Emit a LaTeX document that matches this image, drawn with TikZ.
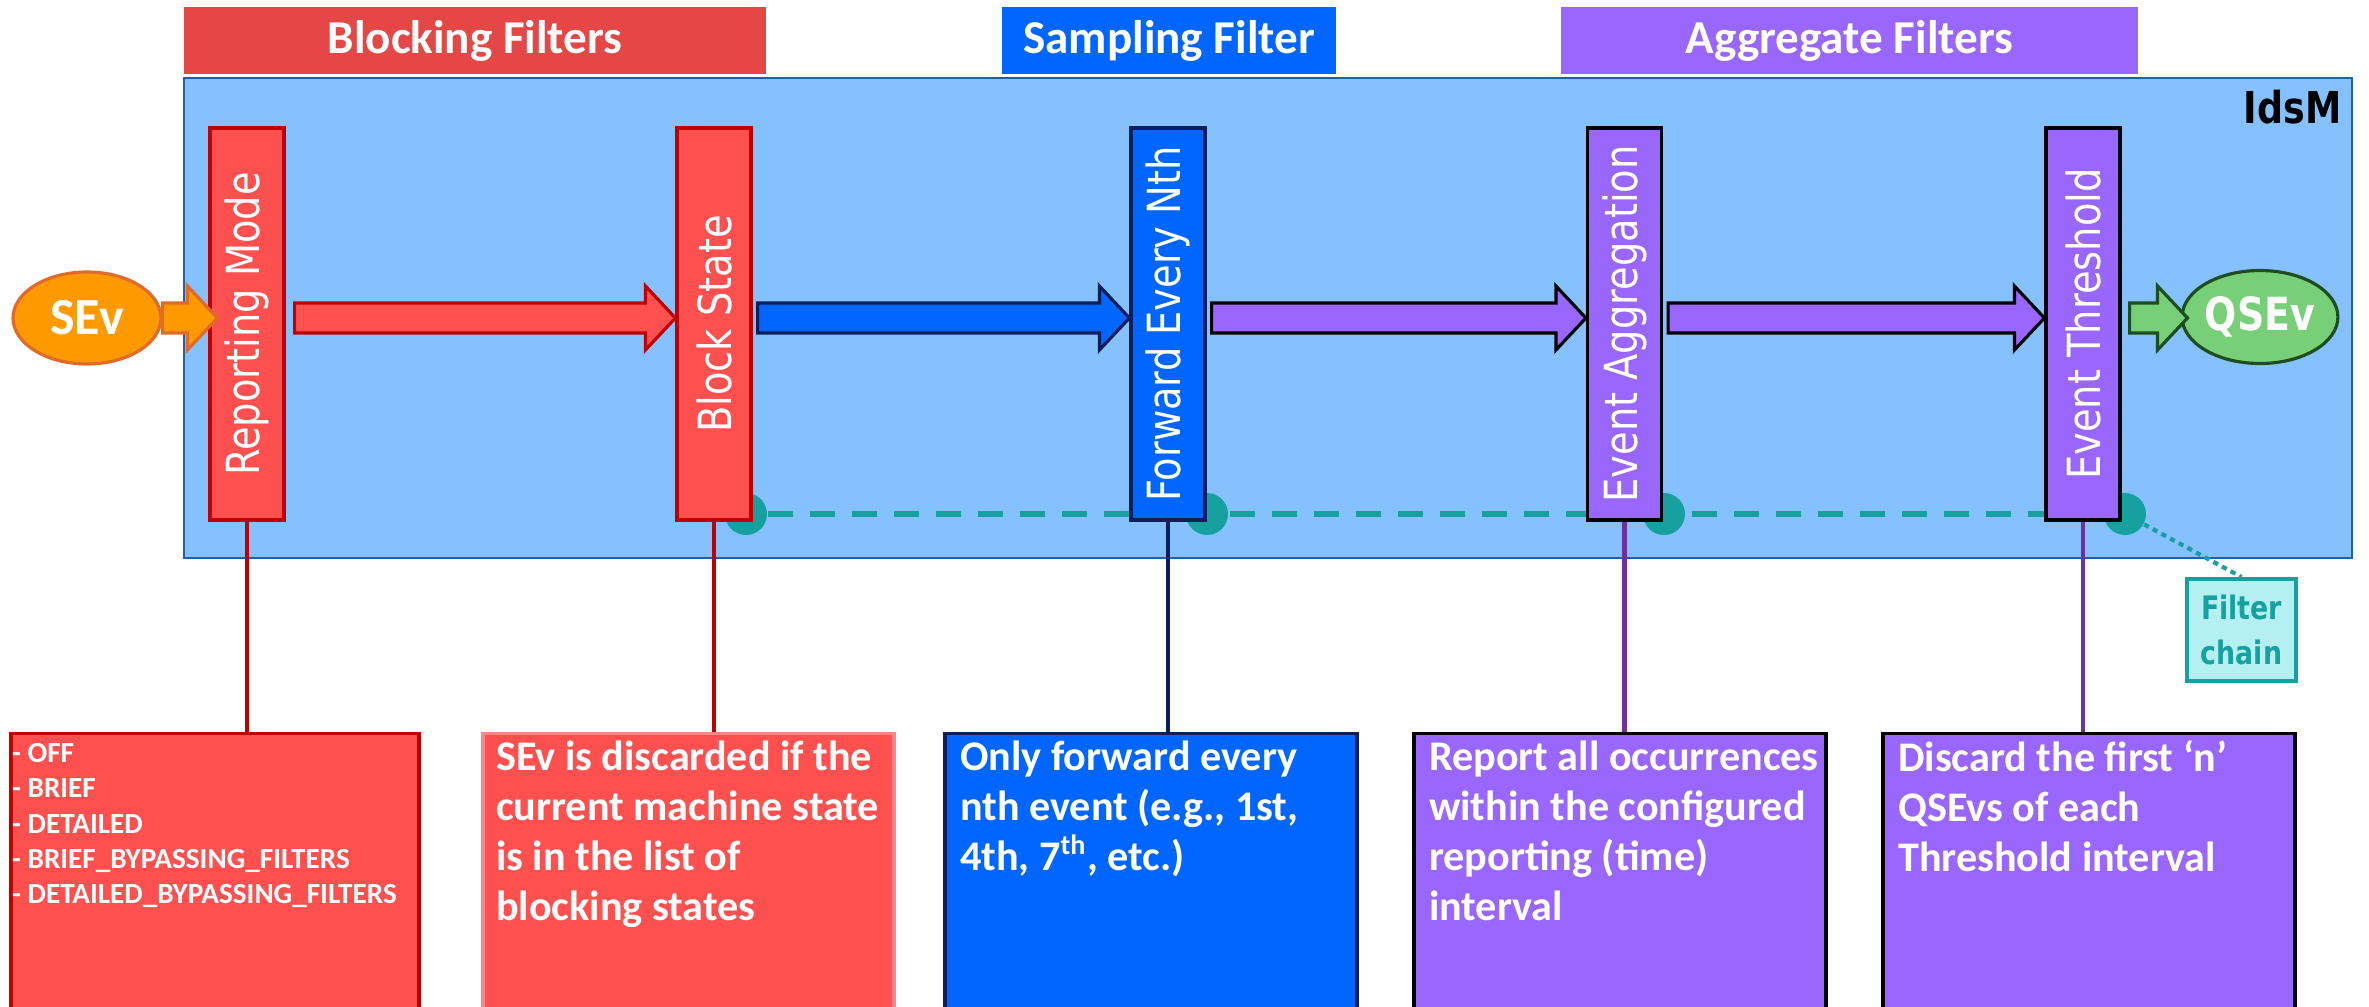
\documentclass[tikz,border=0pt]{standalone}
\usepackage{fontspec}
\setmainfont{Carlito}
\newfontfamily\boxfont{DejaVu Sans}
\usetikzlibrary{positioning,calc,shapes.geometric}

\definecolor{redfill}{HTML}{FF5050}
\definecolor{redbanner}{HTML}{E54646}
\definecolor{redline}{HTML}{C00000}
\definecolor{bluefill}{HTML}{0066FF}
\definecolor{navyline}{HTML}{0C1F5A}
\definecolor{purplefill}{HTML}{9966FF}
\definecolor{purpleline}{HTML}{7030A0}
\definecolor{idsmbg}{HTML}{85C1FF}
\definecolor{idsmline}{HTML}{1F5FAF}
\definecolor{orangefill}{HTML}{FF9900}
\definecolor{orangeline}{HTML}{E06A2A}
\definecolor{greenfill}{HTML}{77D077}
\definecolor{greenline}{HTML}{1E4D1E}
\definecolor{chainteal}{HTML}{17A0A0}
\definecolor{chainfill}{HTML}{B4F0F2}

\tikzset{
  banner/.style={fill=#1, text=white, minimum height=0.67cm, inner sep=0pt,
    font=\bfseries\fontsize{13.4}{16}\selectfont},
  filterbox/.style={fill=#1, line width=0.9pt, minimum width=0.74cm,
    minimum height=3.92cm, inner sep=0pt, text=white,
    font=\boxfont\fontsize{13}{15}\selectfont},
  descbox/.style={fill=#1, line width=0.9pt, minimum height=3cm,
    anchor=north, inner sep=0pt},
  desctext/.style={anchor=north west, inner sep=0pt, align=left, text=white,
    font=\bfseries\fontsize{12}{14.2}\selectfont},
  arrowbody/.style={fill=#1, line width=0.9pt, line join=miter},
  chaindot/.style={circle, fill=chainteal, minimum size=0.42cm, inner sep=0pt},
  uplink/.style={line width=1.3pt},
}

\newcommand{\blockarrow}[3][]{%
  \draw[#1] let \p1=#2, \p2=#3 in
    (\x1,\y1+1.5mm) -- (\x2-3mm,\y1+1.5mm) -- (\x2-3mm,\y1+3.2mm) -- (\x2,\y1)
    -- (\x2-3mm,\y1-3.2mm) -- (\x2-3mm,\y1-1.5mm) -- (\x1,\y1-1.5mm) -- cycle;}
\newcommand{\uplabel}[1]{\rotatebox{90}{\scalebox{0.84}[1]{#1}}}
\newcommand{\narrow}[1]{\scalebox{0.83}[1]{#1}}

\begin{document}
\begin{tikzpicture}
      %\draw[help lines] (0,0) grid (24,10);
      \clip (0,0) rectangle (23.69,10.06);

      \node[banner=redbanner, minimum width=5.82cm] (bfilt) at (4.75,9.655) {Blocking Filters};
      \node[banner=bluefill, minimum width=3.34cm] (sfilt) at (11.69,9.655) {Sampling Filter};
      \node[banner=purplefill, minimum width=5.77cm] (afilt) at (18.495,9.655) {Aggregate Filters};

      \draw[fill=idsmbg, draw=idsmline, line width=0.6pt] (1.84,4.48) rectangle (23.52,9.28);
      \node[anchor=north east, inner sep=0pt, font=\boxfont\bfseries\fontsize{12.5}{15}\selectfont] (idsm) at (23.42,9.17) {\narrow{IdsM}};

      % filter chain behind the boxes
      \node[chaindot] (k1) at (7.46,4.92) {};
      \node[chaindot] (k2) at (12.07,4.92) {};
      \node[chaindot] (k3) at (16.64,4.92) {};
      \node[chaindot] (k4) at (21.25,4.92) {};
      \draw[chainteal, line width=1.7pt, dash pattern=on 0.25cm off 0.17cm] (k1) -- (k4);

      \node[filterbox=redfill, draw=redline] (rm) at (2.47,6.82) {\uplabel{Reporting Mode}};
      \node[filterbox=redfill, draw=redline] (bs) at (7.14,6.82) {\uplabel{Block State}};
      \node[filterbox=bluefill, draw=navyline] (fwd) at (11.68,6.82) {\uplabel{Forward Every Nth}};
      \node[filterbox=purplefill, draw=black] (agg) at (16.245,6.82) {\uplabel{Event Aggregation}};
      \node[filterbox=purplefill, draw=black] (thr) at (20.83,6.82) {\uplabel{Event Threshold}};

      \node[ellipse, fill=orangefill, draw=orangeline, line width=0.9pt, minimum width=1.48cm,
        minimum height=0.92cm, text=white, font=\bfseries\fontsize{14.8}{16}\selectfont] (sev) at (0.87,6.88) {SEv};
      \node[ellipse, fill=greenfill, draw=greenline, line width=0.9pt, minimum width=1.49cm,
        minimum height=0.93cm, inner sep=0pt, text=white, font=\boxfont\bfseries\fontsize{13}{15}\selectfont] (qsev) at (22.60,6.89) {\narrow{QSEv}};

      \blockarrow[arrowbody=orangefill, draw=orangeline]{(sev.east)}{($(rm.west)+(0.09,0)$)}
      \blockarrow[arrowbody=redfill, draw=redline]{($(rm.east)+(0.09,0.06)$)}{(bs.west)}
      \blockarrow[arrowbody=bluefill, draw=navyline]{($(bs.east)+(0.05,0.06)$)}{(fwd.west)}
      \blockarrow[arrowbody=purplefill, draw=black]{($(fwd.east)+(0.05,0.06)$)}{(agg.west)}
      \blockarrow[arrowbody=purplefill, draw=black]{($(agg.east)+(0.05,0.06)$)}{(thr.west)}
      \blockarrow[arrowbody=greenfill, draw=greenline]{($(thr.east)+(0.08,0.06)$)}{($(qsev.west)+(0.07,0)$)}

      \node[draw=chainteal, fill=chainfill, line width=1.1pt, minimum width=1.09cm, minimum height=1.02cm,
        inner sep=0pt, align=center, text=chainteal, font=\boxfont\bfseries\fontsize{9.2}{12.8}\selectfont] (chain) at (22.415,3.76) {\narrow{Filter}\\\narrow{chain}};
      \draw[chainteal, line width=1.2pt, dash pattern=on 1.5pt off 1.3pt] (k4) -- (chain.north);

      % descriptions
      \node[descbox=redfill, draw=redline, minimum width=4.08cm] (dm) at (2.15,2.74) {};
      \node[descbox=redfill, draw=redfill!70!white, minimum width=4.11cm] (dbs) at (6.885,2.74) {};
      \node[descbox=bluefill, draw=navyline, minimum width=4.12cm] (dfwd) at (11.51,2.74) {};
      \node[descbox=purplefill, draw=black, minimum width=4.12cm] (dagg) at (16.20,2.74) {};
      \node[descbox=purplefill, draw=black, minimum width=4.12cm] (dthr) at (20.89,2.74) {};

      \draw[uplink, redline] (rm.south) -- (rm.south |- dm.north);
      \draw[uplink, redline] (bs.south) -- (bs.south |- dbs.north);
      \draw[uplink, navyline] (fwd.south) -- (fwd.south |- dfwd.north);
      \draw[uplink, purpleline] (agg.south) -- (agg.south |- dagg.north);
      \draw[uplink, purpleline] (thr.south) -- (thr.south |- dthr.north);

      \node[desctext, font=\bfseries\fontsize{8.3}{10}\selectfont] (tm) at ($(dm.north west)+(0.02,-0.11)$)
        {- OFF\\- BRIEF\\- DETAILED\\- BRIEF\_BYPASSING\_FILTERS\\- DETAILED\_BYPASSING\_FILTERS};
      \node[desctext] (tbs) at ($(dbs.north west)+(0.14,-0.08)$)
        {SEv is discarded if the\\current machine state\\is in the list of\\blocking states};
      \node[desctext] (tfwd) at ($(dfwd.north west)+(0.16,-0.08)$)
        {Only forward every\\nth event (e.g., 1st,\\4th, 7\textsuperscript{th}, etc.)};
      \node[desctext] (tagg) at ($(dagg.north west)+(0.16,-0.08)$)
        {Report all occurrences\\within the configured\\reporting (time)\\interval};
      \node[desctext] (tthr) at ($(dthr.north west)+(0.16,-0.08)$)
        {Discard the first ‘n’\\QSEvs of each\\Threshold interval};
\end{tikzpicture}
\end{document}
